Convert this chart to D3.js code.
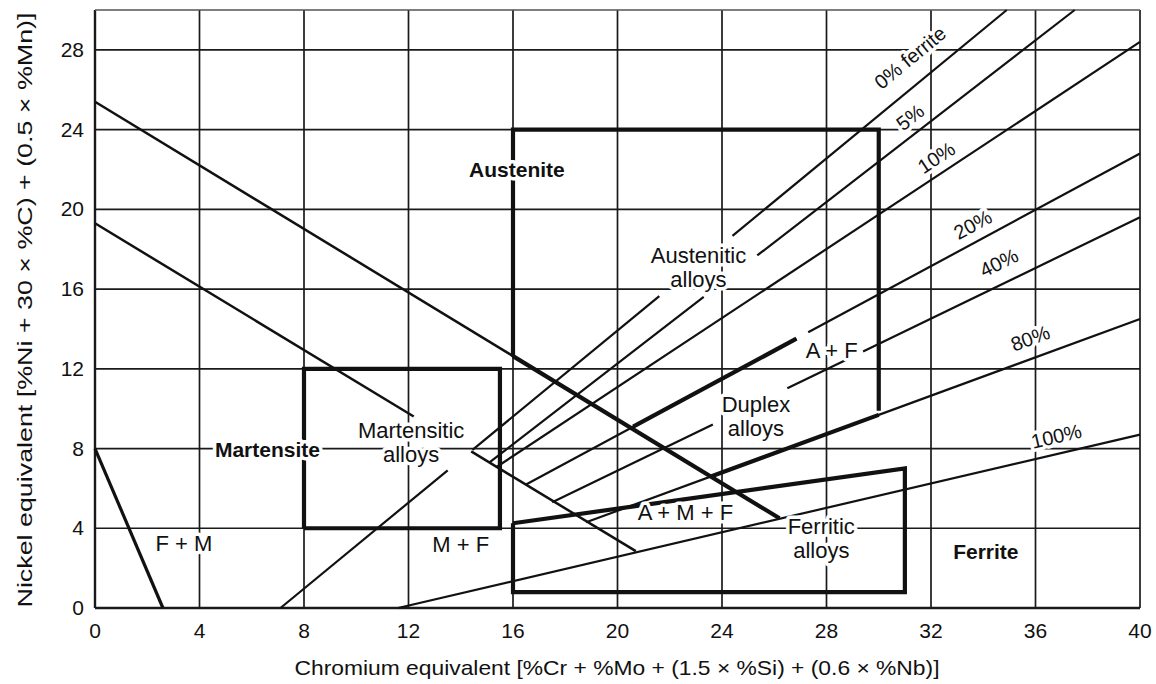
<!DOCTYPE html>
<html>
<head>
<meta charset="utf-8">
<script src="https://cdn.jsdelivr.net/npm/d3@7"></script>
<style>
body { margin: 0; background: #fff; }
text { font-family: "Liberation Sans", Arial, sans-serif; fill: #111; }
</style>
</head>
<body>
<svg id="chart" width="1156" height="684"></svg>
<script>
var xTicks = [0, 4, 8, 12, 16, 20, 24, 28, 32, 36, 40];
var yTicks = [0, 4, 8, 12, 16, 20, 24, 28];

// ferrite iso-lines, [Cr eq, Ni eq] at each end
var ferriteNames = ["0% ferrite", "5%", "10%", "20%", "40%", "80%", "100%"];
var ferriteFrom = [[7.1, 0], [15.1, 7.3], [15.4, 7.1], [16.5, 6.2], [17.5, 5.3], [18.8, 4.3], [11.6, 0]];
var ferriteTo = [[34.9, 30], [37.5, 30], [40, 28.4], [40, 22.8], [40, 19.6], [40, 14.5], [40, 8.7]];
var ferriteGaps = [[[13.5, 14.45], [21.6, 24.4]], [[23.3, 25.35]], [], [[26.85, 27.3]], [[23.65, 26.5], [28.8, 29.4]], [], []];
var ferriteBold = [null, null, null, [20.6, 26.85], null, [23.6, 30], null];
var ferriteLabelCr = [31.2, 31.2, 32.2, 33.6, 34.6, 35.8, 36.8];

// phase boundaries
var upperLine = [[0, 25.4], [26.2, 4.5]];
var lowerLine = [[0, 19.3], [20.7, 2.85]];
var fmLine = [[0, 8], [2.6, 0]];
var martensiticBox = [[8, 4], [8, 12], [15.5, 12], [15.5, 4], [8, 4]];
var austeniticBox = [[16, 12.6], [16, 24], [30, 24], [30, 9.9]];
var ferriticBox = [[16, 4.25], [16, 0.8], [31, 0.8], [31, 7], [16, 4.25]];

// region names and where they sit [Cr, Ni]
var regionNames = [["Austenite"], ["Austenitic", "alloys"], ["Martensite"], ["Martensitic", "alloys"],
  ["Duplex", "alloys"], ["A + F"], ["A + M + F"], ["Ferritic", "alloys"], ["Ferrite"], ["F + M"], ["M + F"]];
var regionAt = [[16.15, 22], [23.1, 17.1], [6.6, 8.0], [12.1, 8.35], [25.3, 9.65], [28.2, 12.95],
  [22.6, 4.8], [27.8, 3.5], [34.1, 2.86], [3.4, 3.25], [14.0, 3.2]];
var regionBold = [true, false, true, false, false, false, false, false, true, false, false];

var svg = d3.select("#chart");
var x = d3.scaleLinear().domain([0, 40]).range([95, 1140]);
var y = d3.scaleLinear().domain([0, 30]).range([608, 10]);
var line = d3.line().x(function(d) { return x(d[0]); }).y(function(d) { return y(d[1]); });

function niAt(p0, p1, cr) {
  return p0[1] + (p1[1] - p0[1]) * (cr - p0[0]) / (p1[0] - p0[0]);
}
function pieces(p0, p1, gaps) {
  var cuts = [p0[0]];
  gaps.forEach(function(g) { cuts.push(g[0], g[1]); });
  cuts.push(p1[0]);
  var out = [];
  for (var i = 0; i < cuts.length; i += 2) {
    out.push([[cuts[i], niAt(p0, p1, cuts[i])], [cuts[i + 1], niAt(p0, p1, cuts[i + 1])]]);
  }
  return out;
}
function draw(pts, w) {
  svg.append("path").attr("d", line(pts)).attr("fill", "none")
    .attr("stroke", "#111").attr("stroke-width", w).attr("stroke-linejoin", "miter");
}

// grid
var grid = svg.append("g");
xTicks.forEach(function(t) {
  grid.append("line").attr("x1", x(t)).attr("x2", x(t)).attr("y1", y(0)).attr("y2", y(30))
    .attr("stroke", "#1a1a1a").attr("stroke-width", t == 0 ? 2.4 : 1.7);
});
yTicks.forEach(function(t) {
  grid.append("line").attr("x1", x(0)).attr("x2", x(40)).attr("y1", y(t)).attr("y2", y(t))
    .attr("stroke", "#1a1a1a").attr("stroke-width", t == 0 ? 2.4 : 1.7);
});
grid.append("line").attr("x1", x(0)).attr("x2", x(40)).attr("y1", y(30)).attr("y2", y(30))
  .attr("stroke", "#555").attr("stroke-width", 1.5);

// ferrite lines
ferriteNames.forEach(function(n, i) {
  pieces(ferriteFrom[i], ferriteTo[i], ferriteGaps[i]).forEach(function(s) { draw(s, 2.2); });
  if (ferriteBold[i]) {
    var b = ferriteBold[i];
    draw([[b[0], niAt(ferriteFrom[i], ferriteTo[i], b[0])], [b[1], niAt(ferriteFrom[i], ferriteTo[i], b[1])]], 4.2);
  }
});

// boundaries
draw(upperLine, 2.5);
draw([[16, niAt(upperLine[0], upperLine[1], 16)], upperLine[1]], 4.2);
pieces(lowerLine[0], lowerLine[1], [[12.2, 14.4]]).forEach(function(s) { draw(s, 2.5); });
draw(fmLine, 3.2);
draw(martensiticBox, 4.2);
draw(austeniticBox, 4.2);
draw(ferriticBox, 4.2);

function halo(sel) {
  return sel.attr("stroke", "#fff").attr("stroke-width", 7).attr("stroke-linejoin", "round")
    .style("paint-order", "stroke");
}

// ferrite labels along their lines
var labelLift = [32, 20, 19, 19, 23, 21, 18];
ferriteNames.forEach(function(n, i) {
  var a = ferriteFrom[i], b = ferriteTo[i], cr = ferriteLabelCr[i];
  var ang = Math.atan2(y(b[1]) - y(a[1]), x(b[0]) - x(a[0])) * 180 / Math.PI;
  halo(svg.append("text")
    .attr("transform", "translate(" + x(cr) + "," + (y(niAt(a, b, cr)) - labelLift[i]) + ") rotate(" + ang + ")")
    .attr("text-anchor", "middle").attr("dominant-baseline", "central")
    .style("font-size", "20px").text(n));
});

// region labels
regionNames.forEach(function(lines, i) {
  var t = halo(svg.append("text").attr("text-anchor", "middle")
    .style("font-size", regionBold[i] ? "21px" : "22px")
    .style("font-weight", regionBold[i] ? "bold" : "normal"));
  lines.forEach(function(s, k) {
    t.append("tspan").attr("x", x(regionAt[i][0]))
      .attr("y", y(regionAt[i][1]) + 8 + (k - (lines.length - 1) / 2) * 24).text(s);
  });
});

// axes labels
xTicks.forEach(function(t) {
  svg.append("text").attr("x", x(t)).attr("y", 638).attr("text-anchor", "middle")
    .style("font-size", "21px").text(t);
});
yTicks.forEach(function(t) {
  svg.append("text").attr("x", 84).attr("y", y(t) + 7).attr("text-anchor", "end")
    .style("font-size", "21px").text(t);
});
svg.append("text").attr("x", 617).attr("y", 675).attr("text-anchor", "middle")
  .attr("textLength", 645).attr("lengthAdjust", "spacingAndGlyphs")
  .style("font-size", "21px").text("Chromium equivalent [%Cr + %Mo + (1.5 \u00d7 %Si) + (0.6 \u00d7 %Nb)]");
svg.append("text").attr("transform", "translate(32,310) rotate(-90)").attr("text-anchor", "middle")
  .attr("textLength", 595).attr("lengthAdjust", "spacingAndGlyphs")
  .style("font-size", "21px").text("Nickel equivalent [%Ni + 30 \u00d7 %C) + (0.5 \u00d7 %Mn)]");
</script>
</body>
</html>
